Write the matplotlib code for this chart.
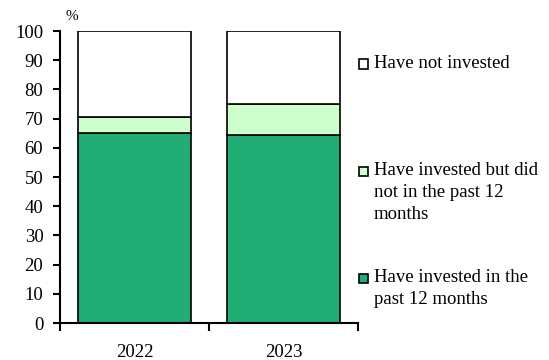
import matplotlib
matplotlib.use('Agg')

import matplotlib.pyplot as plt
import numpy as np
from matplotlib.patches import Rectangle

years = ['2022', '2023']
invested_12m = [65.2, 64.5]
invested_before = [5.3, 10.4]
not_invested = [29.5, 25.1]

labels = ['Have not invested',
          'Have invested but did\nnot in the past 12\nmonths',
          'Have invested in the\npast 12 months']
colors = ['white', '#CCFFCC', '#21AE74']

plt.rcParams['font.family'] = ['Liberation Serif', 'DejaVu Serif']
plt.rcParams['font.size'] = 13.5

fig = plt.figure(figsize=(5.49, 3.60), dpi=100)
ax = fig.add_axes([60 / 549, 1 - 323 / 360, 298 / 549, 292 / 360])

x = np.arange(len(years))
w = 0.765
bottom = np.zeros(len(years))
for vals, c in zip([invested_12m, invested_before, not_invested], colors[::-1]):
    ax.bar(x, vals, w, bottom=bottom, color=c, edgecolor='black', linewidth=1.2, zorder=2)
    bottom += np.array(vals)

ax.set_xlim(-0.5, 1.5)
ax.set_ylim(0, 100)
ax.set_yticks(np.arange(0, 101, 10))

# category boundaries get the tick marks, labels sit in the middle
ax.set_xticks([-0.5, 0.5, 1.5])
ax.set_xticklabels([])
ax.set_xticks(x, minor=True)
ax.set_xticklabels(years, minor=True)
ax.tick_params(axis='x', which='major', direction='out', length=6, width=1.5)
ax.tick_params(axis='x', which='minor', length=0, pad=15)
ax.tick_params(axis='y', direction='out', length=5, width=1.5, pad=7)

for s in ['top', 'right']:
    ax.spines[s].set_visible(False)
for s in ['left', 'bottom']:
    ax.spines[s].set_linewidth(1.5)
    ax.spines[s].set_zorder(3)

fig.text(72 / 549, 1 - 16 / 360, '%', ha='center', va='center', fontsize=11)

# legend drawn by hand: square + wrapped label
entry_y = [64, 171, 278]
for lab, c, y in zip(labels, colors, entry_y):
    fig.add_artist(Rectangle((359 / 549, 1 - (y + 4.5) / 360), 9 / 549, 9 / 360,
                             facecolor=c, edgecolor='black', linewidth=1.2,
                             transform=fig.transFigure))
    fig.text(374 / 549, 1 - (y - 9) / 360, lab, ha='left', va='top',
             linespacing=1.37)

fig.savefig('out.png', dpi=100)
